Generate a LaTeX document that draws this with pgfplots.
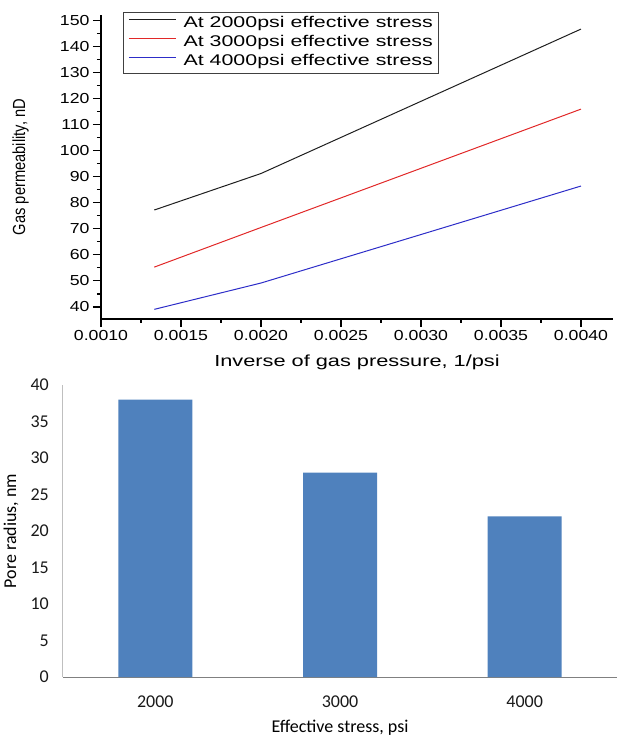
\documentclass[border=0pt]{standalone}
\usepackage{pgfplots}
\pgfplotsset{compat=1.18}
\usepackage{fontspec}
\setmainfont{Liberation Sans}
\newfontfamily\tickfont[FakeStretch=1.22]{Liberation Sans}
\newfontfamily\legfont[FakeStretch=1.38]{Liberation Sans}
\newfontfamily\xlabfont[FakeStretch=1.36]{Liberation Sans}
\newfontfamily\ylabfont[FakeStretch=0.84]{Liberation Sans}
\newfontfamily\calibri{Carlito}
\definecolor{barblue}{RGB}{79,129,189}
\definecolor{lred}{RGB}{225,40,40}
\definecolor{lblue}{RGB}{45,45,200}
\definecolor{lblack}{RGB}{30,30,30}

\begin{document}
\begin{tikzpicture}[x=1pt,y=1pt]
\useasboundingbox (0,0) rectangle (617,739);
% ---------------- top chart ----------------
\begin{axis}[
  at={(101pt,420pt)}, anchor=south west,
  scale only axis, width=512pt, height=304pt,
  xmin=0.001, xmax=0.0042, ymin=35.4, ymax=152,
  axis x line=bottom, axis y line=left,
  axis line style={-, line width=1.1pt, black},
  tick align=outside, major tick length=8pt, minor tick length=4pt,
  every tick/.style={line width=1.1pt, black},
  scaled x ticks=false,
  xtick={0.001,0.0015,0.002,0.0025,0.003,0.0035,0.004},
  xticklabels={0.0010,0.0015,0.0020,0.0025,0.0030,0.0035,0.0040},
  minor xtick={0.00125,0.00175,0.00225,0.00275,0.00325,0.00375},
  ytick={40,50,...,150},
  minor ytick={45,55,...,145},
  /pgf/number format/assume math mode=true,
  ticklabel style={font=\tickfont\fontsize{14.5}{16}\selectfont},
  xlabel={Inverse of gas pressure, 1/psi},
  ylabel={Gas permeability, nD},
  xlabel style={font=\xlabfont\fontsize{16}{18}\selectfont, at={(axis description cs:0.5,-0.1414)}, anchor=center},
  ylabel style={font=\ylabfont\fontsize{17.5}{20}\selectfont, at={(axis description cs:-0.157,0.5)}, anchor=center},
  legend cell align=left,
  legend image code/.code={\draw[#1, line width=1.2pt] (0pt,4pt) -- (47pt,4pt);},
  legend style={at={(0.043,1.0099)}, anchor=north west, draw=black!75, line width=0.7pt, fill=white,
    font=\legfont\fontsize{15.5}{18}\selectfont, inner xsep=5pt, inner ysep=4.25pt,
    row sep=4.5pt, column sep=7pt,
    nodes={inner sep=0pt, text height=11pt, text depth=3.5pt}},
]
\addplot[draw=lblack, line width=1pt] coordinates {(0.001333,77.2) (0.002,91.2) (0.004,146.6)};
\addlegendentry{At 2000psi effective stress}
\addplot[draw=lred, line width=1pt] coordinates {(0.001333,55.3) (0.002,70.5) (0.004,115.9)};
\addlegendentry{At 3000psi effective stress}
\addplot[draw=lblue, line width=1pt] coordinates {(0.001333,39.1) (0.002,49.2) (0.004,86.4)};
\addlegendentry{At 4000psi effective stress}
\end{axis}
% ---------------- bottom chart ----------------
\begin{axis}[
  at={(63pt,62pt)}, anchor=south west,
  scale only axis, width=554pt, height=292pt,
  xmin=0.5, xmax=3.5, ymin=0, ymax=40,
  ybar, bar width=74pt,
  axis x line=bottom, axis y line=left,
  x axis line style={-, line width=1pt, draw=black!50},
  y axis line style={-, line width=1pt, draw=black!25},
  major tick length=0pt, minor tick length=0pt,
  xtick={1,2,3}, xticklabels={2000,3000,4000},
  ytick={0,5,...,40},
  /pgf/number format/assume math mode=true,
  ticklabel style={font=\calibri\fontsize{18}{20}\selectfont, text=black!90},
  yticklabel style={anchor=east, inner sep=0pt, xshift=-14pt},
  xticklabel style={anchor=center, inner sep=0pt, yshift=-25pt},
  xlabel={Effective stress, psi},
  ylabel={Pore radius, nm},
  xlabel style={font=\calibri\fontsize{18}{20}\selectfont, at={(axis description cs:0.5,-0.1747)}, anchor=center},
  ylabel style={font=\calibri\fontsize{18}{20}\selectfont, at={(axis description cs:-0.094,0.5)}, anchor=center},
]
\addplot[fill=barblue, draw=none] coordinates {(1,38) (2,28) (3,22)};
\end{axis}
\end{tikzpicture}
\end{document}
